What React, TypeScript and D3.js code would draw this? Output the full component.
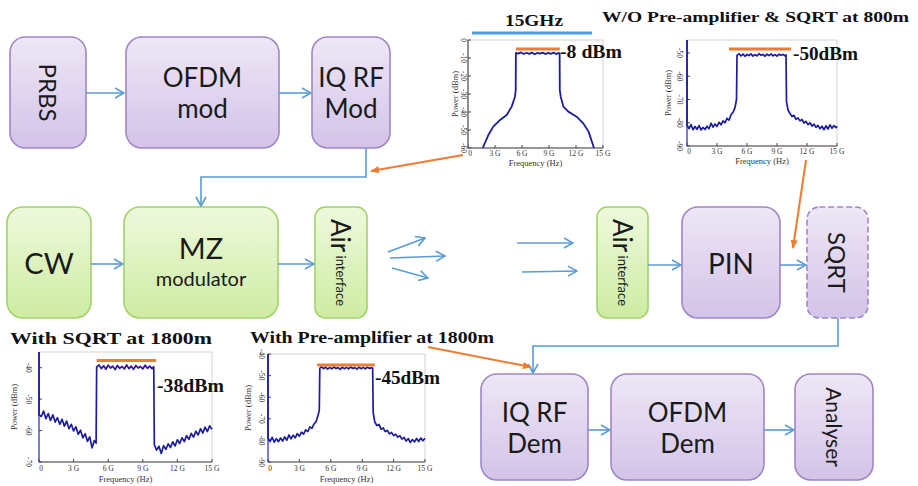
import React, { useEffect, useRef } from 'react';
import * as d3 from 'd3';

// Spectra: [frequency (GHz), power (dBm)]
const txSpectrum: [number, number][] = [
  [1.63, -60], [2.26, -52.8], [2.81, -48.1], [3.56, -44.4], [4.3, -41.7], [4.85, -37], [5.22, -31.5], [5.3, -27.8],
  [5.32, -7.2], [5.6, -7.6], [5.9, -6.9], [6.2, -7.8], [6.5, -7.1], [6.8, -7.7], [7.1, -7], [7.4, -7.9], [7.7, -7.2],
  [8.0, -7.6], [8.3, -7], [8.6, -7.8], [8.9, -7.2], [9.2, -7.7], [9.5, -7], [9.8, -7.8], [10.1, -7.2], [10.18, -7.5],
  [10.2, -27.8], [10.3, -31.5], [10.6, -37], [11.15, -39.8], [12.07, -42.6], [12.8, -46.3], [13.4, -50.9], [13.7, -55.5], [14.0, -60],
];

const noAmpSpectrum: [number, number][] = [
  [0, -44.4], [0, -81], [0.2, -82.5], [0.4, -80.8], [0.6, -83], [0.8, -81.6], [1.0, -82.8], [1.2, -81.2], [1.4, -83.1], [1.6, -82],
  [1.8, -82.9], [2.0, -81.5], [2.2, -82.6], [2.4, -80.2], [2.6, -81.9], [2.8, -80.5], [3.0, -81.6], [3.2, -79.8], [3.4, -80.9],
  [3.6, -79.2], [3.8, -80], [4.0, -78.1], [4.2, -78.9], [4.4, -76.6], [4.6, -75.5], [4.8, -73.5], [4.95, -70],
  [5.0, -51], [5.2, -50.3], [5.4, -51.2], [5.6, -50.5], [5.8, -51.4], [6.0, -50.6], [6.2, -51.1], [6.4, -50.4], [6.6, -51.3],
  [6.8, -50.7], [7.0, -51.2], [7.2, -50.3], [7.4, -51], [7.6, -50.6], [7.8, -51.4], [8.0, -50.5], [8.2, -51.1], [8.4, -50.4],
  [8.6, -51.2], [8.8, -50.7], [9.0, -51.3], [9.2, -50.5], [9.4, -51], [9.6, -50.6], [9.8, -51.2], [9.9, -50.8],
  [9.95, -71], [10.1, -74.5], [10.3, -76], [10.5, -77.3], [10.7, -76.8], [10.9, -78.5], [11.1, -77.9], [11.3, -79.2],
  [11.5, -78.6], [11.7, -80.1], [11.9, -79.4], [12.1, -80.8], [12.3, -80], [12.5, -81.4], [12.7, -80.6], [12.9, -82],
  [13.1, -81.1], [13.3, -82.6], [13.5, -81.5], [13.7, -83], [13.9, -81.3], [14.1, -82.7], [14.3, -80.9], [14.5, -82.4],
  [14.7, -81.2], [14.9, -82.1], [15, -81.5],
];

const sqrtSpectrum: [number, number][] = [
  [0, -35], [0, -55], [0.2, -55.5], [0.4, -53.8], [0.6, -56.2], [0.8, -54.6], [1.0, -56.8], [1.2, -55], [1.4, -57.3], [1.6, -55.9],
  [1.8, -58], [2.0, -56.4], [2.2, -58.6], [2.4, -57], [2.6, -59.4], [2.8, -58], [3.0, -60.1], [3.2, -58.8], [3.4, -61.2],
  [3.6, -59.9], [3.8, -62.3], [4.0, -61], [4.2, -63.4], [4.4, -62], [4.6, -65.5], [4.8, -63.2], [4.95, -64],
  [5.0, -39.8], [5.2, -39.1], [5.4, -40.3], [5.6, -39.4], [5.8, -40.5], [6.0, -39.2], [6.2, -40.1], [6.4, -39.5], [6.6, -40.6],
  [6.8, -39.3], [7.0, -40.2], [7.2, -39.6], [7.4, -40.4], [7.6, -39.1], [7.8, -40.3], [8.0, -39.5], [8.2, -40.5], [8.4, -39.3],
  [8.6, -40.1], [8.8, -39.6], [9.0, -40.4], [9.2, -39.2], [9.4, -40.2], [9.6, -39.5], [9.8, -40.3], [9.95, -39.7],
  [10.0, -64.5], [10.2, -66.2], [10.4, -65], [10.6, -67.3], [10.8, -64.8], [11.0, -66], [11.2, -64.2], [11.4, -65.4],
  [11.6, -63.6], [11.8, -64.9], [12.0, -62.9], [12.2, -64.1], [12.4, -62.3], [12.6, -63.5], [12.8, -61.6], [13.0, -62.8],
  [13.2, -60.9], [13.4, -62.1], [13.6, -60.2], [13.8, -61.4], [14.0, -59.4], [14.2, -60.8], [14.4, -58.9], [14.6, -60.3],
  [14.8, -58.5], [15.0, -59.6],
];

const preAmpSpectrum: [number, number][] = [
  [0, -40], [0, -79], [0.2, -80.5], [0.4, -78.6], [0.6, -80.8], [0.8, -79.2], [1.0, -80.6], [1.2, -78.9], [1.4, -80.3], [1.6, -78.4],
  [1.8, -79.9], [2.0, -77.5], [2.2, -79.3], [2.4, -77.6], [2.6, -78.8], [2.8, -76.9], [3.0, -78], [3.2, -76.2], [3.4, -77.1],
  [3.6, -75.1], [3.8, -75.9], [4.0, -73.8], [4.2, -74.4], [4.4, -72.4], [4.6, -71.3], [4.8, -68], [4.9, -66],
  [4.95, -46.6], [5.1, -45.9], [5.3, -46.8], [5.5, -46.1], [5.7, -47], [5.9, -46.2], [6.1, -46.9], [6.3, -46], [6.5, -46.7],
  [6.7, -46.3], [6.9, -47.1], [7.1, -46.1], [7.3, -46.8], [7.5, -46.2], [7.7, -46.9], [7.9, -46], [8.1, -46.7], [8.3, -46.3],
  [8.5, -47], [8.7, -46.1], [8.9, -46.8], [9.1, -46.2], [9.3, -46.9], [9.5, -46.1], [9.7, -46.7], [9.9, -46.3], [10.0, -46.6],
  [10.05, -67], [10.2, -71.5], [10.4, -73.1], [10.6, -72.6], [10.8, -74.8], [11.0, -74.2], [11.2, -75.9], [11.4, -75.4],
  [11.6, -77], [11.8, -76.3], [12.0, -77.8], [12.2, -77.1], [12.4, -78.5], [12.6, -77.8], [12.8, -79.4], [13.0, -78.6],
  [13.2, -80.3], [13.4, -79.2], [13.6, -81], [13.8, -79.6], [14.0, -80.7], [14.2, -79.1], [14.4, -80.5], [14.6, -78.9],
  [14.8, -80.2], [15.0, -79],
];

const freqTicks = [0, 3, 6, 9, 12, 15];
const freqTickLabels = ['0', '3 G', '6 G', '9 G', '12 G', '15 G'];

const txPowerTicks = [0, -10, -20, -30, -40, -50, -60];
const noAmpPowerTicks = [-50, -60, -70, -80, -90];
const sqrtPowerTicks = [-40, -50, -60, -70];
const preAmpPowerTicks = [-40, -50, -60, -70, -80, -90];

const peakLevels = [-5, -48.3, -37.7, -45.1];
const peakSpans: [number, number][] = [[5.33, 10.2], [4.2, 10.4], [5.0, 10.15], [4.7, 10.2]];
const peakLabels = ['-8 dBm', '-50dBm', '-38dBm', '-45dBm'];

const plotTitles = ['15GHz', 'W/O Pre-amplifier & SQRT at 800m', 'With SQRT at 1800m', 'With Pre-amplifier at 1800m'];

// where each little spectrum sits on the page
const plotLayouts = [
  { x: 468, y: 40, w: 135, h: 108, yDomain: [-60, 0], spine: '#555', tickX: 463, yLabelX: 455, xTickY: 156, xLabelY: 166, peak: { x: 560, y: 58, len: 62 }, title: { x: 505, y: 26, len: 58 } },
  { x: 687, y: 40, w: 150, h: 106, yDomain: [-90, -44.4], spine: '#3434c8', tickX: 679, yLabelX: 668, xTickY: 154, xLabelY: 164, peak: { x: 793, y: 60, len: 65 }, title: { x: 602, y: 22, len: 307 } },
  { x: 39, y: 352, w: 173, h: 110, yDomain: [-70, -35], spine: '#3434c8', tickX: 28, yLabelX: 14, xTickY: 471, xLabelY: 482, peak: { x: 157, y: 392, len: 67 }, title: { x: 10, y: 344, len: 202 } },
  { x: 268, y: 354, w: 157, h: 108, yDomain: [-90, -40], spine: '#3434c8', tickX: 261, yLabelX: 248, xTickY: 471, xLabelY: 482, peak: { x: 375, y: 384, len: 65 }, title: { x: 250, y: 343, len: 244 } },
];

const spectra = [txSpectrum, noAmpSpectrum, sqrtSpectrum, preAmpSpectrum];
const powerTicks = [txPowerTicks, noAmpPowerTicks, sqrtPowerTicks, preAmpPowerTicks];

// block diagram
const blocks = [
  { x: 10, y: 37, w: 76, h: 111, kind: 'p', lines: [{ t: 'PRBS', s: 24 }], rot: true },
  { x: 126, y: 37, w: 153, h: 111, kind: 'p', lines: [{ t: 'OFDM', s: 26 }, { t: 'mod', s: 26 }] },
  { x: 312, y: 37, w: 78, h: 111, kind: 'p', lines: [{ t: 'IQ RF', s: 26 }, { t: 'Mod', s: 26 }] },
  { x: 7, y: 207, w: 84, h: 111, kind: 'g', lines: [{ t: 'CW', s: 29 }] },
  { x: 124, y: 207, w: 154, h: 111, kind: 'g', lines: [{ t: 'MZ', s: 29 }, { t: 'modulator', s: 20 }] },
  { x: 315, y: 207, w: 52, h: 111, kind: 'g', air: true },
  { x: 597, y: 207, w: 51, h: 111, kind: 'g', air: true },
  { x: 682, y: 207, w: 98, h: 111, kind: 'p', lines: [{ t: 'PIN', s: 28 }] },
  { x: 807, y: 207, w: 61, h: 111, kind: 'p', lines: [{ t: 'SQRT', s: 24 }], rot: true, dashed: true },
  { x: 481, y: 374, w: 107, h: 106, kind: 'p', lines: [{ t: 'IQ RF', s: 26 }, { t: 'Dem', s: 26 }] },
  { x: 611, y: 374, w: 153, h: 106, kind: 'p', lines: [{ t: 'OFDM', s: 26 }, { t: 'Dem', s: 26 }] },
  { x: 795, y: 374, w: 78, h: 106, kind: 'p', lines: [{ t: 'Analyser', s: 21 }], rot: true },
];

const blueLinks: [number, number][][] = [
  [[86, 93], [124, 93]],
  [[279, 93], [311, 93]],
  [[366, 148], [366, 177], [201, 177], [201, 206]],
  [[91, 264], [123, 264]],
  [[278, 264], [314, 264]],
  [[388, 252], [425, 238]],
  [[390, 258], [445, 256]],
  [[392, 268], [428, 278]],
  [[517, 243], [573, 243]],
  [[522, 272], [577, 271]],
  [[648, 265], [681, 265]],
  [[780, 265], [806, 265]],
  [[838, 318], [838, 346], [533, 346], [533, 373]],
  [[588, 430], [610, 430]],
  [[764, 430], [794, 430]],
];

const orangeLinks: [number, number][][] = [
  [[463, 155], [371, 171]],
  [[806, 160], [793, 248]],
  [[428, 347], [531, 367]],
];

const BLOCK_FONT = 'Lato, "Open Sans", sans-serif';
const SERIF = '"Liberation Serif", "Times New Roman", serif';

export default function App() {
  const svgRef = useRef<SVGSVGElement>(null);

  useEffect(() => {
    const svg = d3.select(svgRef.current);
    svg.selectAll('*').remove();

    const defs = svg.append('defs');
    const grad = (id: string, c1: string, c2: string) => {
      const lg = defs.append('linearGradient').attr('id', id).attr('x1', 0).attr('y1', 0).attr('x2', 0).attr('y2', 1);
      lg.append('stop').attr('offset', '0%').attr('stop-color', c1);
      lg.append('stop').attr('offset', '100%').attr('stop-color', c2);
    };
    grad('purpleFill', '#eee7f6', '#d3c3e8');
    grad('greenFill', '#eef9dc', '#cdeca2');

    defs.append('marker').attr('id', 'blueHead').attr('viewBox', '0 0 12 12').attr('refX', 11).attr('refY', 6)
      .attr('markerWidth', 12).attr('markerHeight', 12).attr('markerUnits', 'userSpaceOnUse').attr('orient', 'auto')
      .append('path').attr('d', 'M2,1 L11,6 L2,11').attr('fill', 'none').attr('stroke', '#5b9bd5').attr('stroke-width', 1.6);
    defs.append('marker').attr('id', 'orangeHead').attr('viewBox', '0 0 10 10').attr('refX', 9).attr('refY', 5)
      .attr('markerWidth', 9).attr('markerHeight', 9).attr('markerUnits', 'userSpaceOnUse').attr('orient', 'auto')
      .append('path').attr('d', 'M0,1 L10,5 L0,9 Z').attr('fill', '#ed7d31');

    // blocks
    blocks.forEach(b => {
      const g = svg.append('g');
      const purple = b.kind === 'p';
      g.append('rect')
        .attr('x', b.x).attr('y', b.y).attr('width', b.w).attr('height', b.h)
        .attr('rx', Math.min(16, b.w / 5)).attr('ry', Math.min(16, b.w / 5))
        .attr('fill', purple ? 'url(#purpleFill)' : 'url(#greenFill)')
        .attr('stroke', purple ? '#9f86c6' : '#a3d26a')
        .attr('stroke-width', 1.6)
        .attr('stroke-dasharray', b.dashed ? '6,3' : null);
      const cx = b.x + b.w / 2;
      const cy = b.y + b.h / 2;
      if (b.air) {
        const t = g.append('text')
          .attr('transform', `translate(${cx},${cy}) rotate(90)`)
          .attr('text-anchor', 'middle').attr('dominant-baseline', 'central')
          .attr('font-family', BLOCK_FONT).attr('fill', '#1a1a1a');
        t.append('tspan').attr('font-size', 26).text('Air');
        t.append('tspan').attr('font-size', 13).text(' interface');
      } else if (b.rot) {
        g.append('text')
          .attr('transform', `translate(${cx},${cy}) rotate(90)`)
          .attr('text-anchor', 'middle').attr('dominant-baseline', 'central')
          .attr('font-family', BLOCK_FONT).attr('font-size', b.lines![0].s).attr('fill', '#1a1a1a')
          .text(b.lines![0].t);
      } else {
        const ls = b.lines!;
        const gap = 31;
        ls.forEach((l, i) => {
          g.append('text')
            .attr('x', cx).attr('y', cy + (i - (ls.length - 1) / 2) * gap)
            .attr('text-anchor', 'middle').attr('dominant-baseline', 'central')
            .attr('font-family', BLOCK_FONT).attr('font-size', l.s).attr('fill', '#1a1a1a')
            .text(l.t);
        });
      }
    });

    const link = d3.line();
    blueLinks.forEach(pts => {
      svg.append('path').attr('d', link(pts)).attr('fill', 'none')
        .attr('stroke', '#5b9bd5').attr('stroke-width', 1.6).attr('marker-end', 'url(#blueHead)');
    });

    // spectra
    plotLayouts.forEach((p, i) => {
      const g = svg.append('g');
      const x = d3.scaleLinear().domain([0, 15]).range([p.x, p.x + p.w]);
      const y = d3.scaleLinear().domain(p.yDomain).range([p.y + p.h, p.y]);

      g.append('rect').attr('x', p.x).attr('y', p.y).attr('width', p.w).attr('height', p.h)
        .attr('fill', 'white').attr('stroke', '#c8c8c8').attr('stroke-width', 0.8);

      // ticks
      freqTicks.forEach((f, k) => {
        g.append('line').attr('x1', x(f)).attr('x2', x(f)).attr('y1', p.y + p.h).attr('y2', p.y + p.h - 3).attr('stroke', '#444');
        g.append('text').attr('x', x(f) + (k === 0 ? 2 : 0)).attr('y', p.xTickY).attr('text-anchor', 'middle')
          .attr('font-family', SERIF).attr('font-size', 7.5).attr('fill', '#333').text(freqTickLabels[k]);
      });
      powerTicks[i].forEach(v => {
        g.append('line').attr('x1', p.x).attr('x2', p.x + 3).attr('y1', y(v)).attr('y2', y(v)).attr('stroke', '#444');
        g.append('text').attr('transform', `translate(${p.tickX},${y(v)}) rotate(90)`)
          .attr('text-anchor', 'middle').attr('dominant-baseline', 'central')
          .attr('font-family', SERIF).attr('font-size', 7.5).attr('fill', '#333').text(String(v));
      });

      g.append('line').attr('x1', p.x).attr('x2', p.x + p.w).attr('y1', p.y + p.h).attr('y2', p.y + p.h).attr('stroke', '#444');
      g.append('line').attr('x1', p.x).attr('x2', p.x).attr('y1', p.y).attr('y2', p.y + p.h).attr('stroke', p.spine).attr('stroke-width', 1.2);

      g.append('text').attr('transform', `translate(${p.yLabelX},${p.y + p.h / 2}) rotate(-90)`)
        .attr('text-anchor', 'middle').attr('dominant-baseline', 'central')
        .attr('font-family', SERIF).attr('font-size', 8.5).attr('fill', '#333').text('Power (dBm)');
      g.append('text').attr('x', p.x + p.w / 2).attr('y', p.xLabelY).attr('text-anchor', 'middle')
        .attr('font-family', SERIF).attr('font-size', 8.5).attr('fill', '#333').text('Frequency (Hz)');

      const line = d3.line<[number, number]>().x(d => x(d[0])).y(d => y(d[1]));
      g.append('path').datum(spectra[i]).attr('d', line).attr('fill', 'none')
        .attr('stroke', '#1c1c9e').attr('stroke-width', i === 0 ? 1.8 : 1.7).attr('stroke-linejoin', 'round');

      g.append('line').attr('x1', x(peakSpans[i][0])).attr('x2', x(peakSpans[i][1]))
        .attr('y1', y(peakLevels[i])).attr('y2', y(peakLevels[i]))
        .attr('stroke', '#ed7d31').attr('stroke-width', 3);

      svg.append('text').attr('x', p.peak.x).attr('y', p.peak.y)
        .attr('font-family', SERIF).attr('font-weight', 'bold').attr('font-size', 18).attr('fill', '#111')
        .attr('textLength', p.peak.len).attr('lengthAdjust', 'spacingAndGlyphs').text(peakLabels[i]);

      svg.append('text').attr('x', p.title.x).attr('y', p.title.y)
        .attr('font-family', SERIF).attr('font-weight', 'bold').attr('font-size', i === 1 ? 15 : 17).attr('fill', '#111')
        .attr('textLength', p.title.len).attr('lengthAdjust', 'spacingAndGlyphs').text(plotTitles[i]);
    });

    // 15 GHz span bar
    const span = d3.scaleLinear().domain([0, 15]).range([472, 592]);
    svg.append('line').attr('x1', span(0)).attr('x2', span(15)).attr('y1', 33).attr('y2', 33)
      .attr('stroke', '#4a9be0').attr('stroke-width', 3);

    orangeLinks.forEach(pts => {
      svg.append('path').attr('d', link(pts)).attr('fill', 'none')
        .attr('stroke', '#ed7d31').attr('stroke-width', 2).attr('marker-end', 'url(#orangeHead)');
    });
  }, []);

  return (
    <svg ref={svgRef} width={918} height={486}
      style={{ position: 'absolute', left: 0, top: 0, background: 'white' }} />
  );
}
